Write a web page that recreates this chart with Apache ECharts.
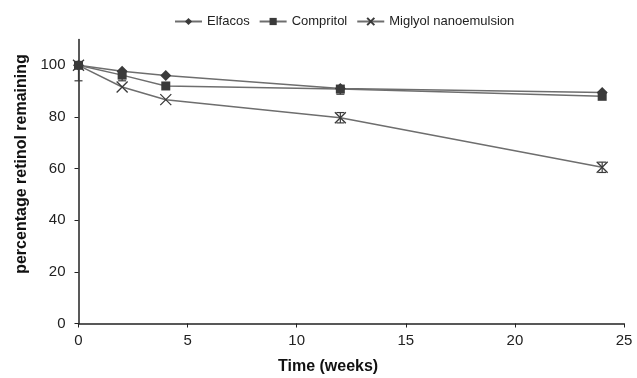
<!DOCTYPE html>
<html><head><meta charset="utf-8">
<script src="https://cdn.jsdelivr.net/npm/echarts@6/dist/echarts.min.js"></script>
<style>html,body{margin:0;padding:0;background:#fff}#c{width:637px;height:378px}</style>
</head><body><div id="c"></div>
<script>
const weeks = [0, 2, 4, 12, 24];
const elfacos = [100, 97.7, 96.1, 91, 89.5];
const compritol = [100, 96.2, 92, 90.8, 88];
const miglyol = [100, 91.6, 86.7, 79.7, 60.5];
// error bar extents below / above each point
const elfacosLo = [0, 0, 0, 0, 0];
const elfacosHi = [0, 0, 0, 0, 0];
const compritolLo = [0, 2.2, 0, 2, 0];
const compritolHi = [0, 0, 0, 0, 0];
const miglyolLo = [6, 0, 0, 2, 2];
const miglyolHi = [0, 0, 0, 2, 2];
const xTicks = [0, 5, 10, 15, 20, 25];
const yTicks = [0, 20, 40, 60, 80, 100];

const lineColor = '#6e6e6e';
const markColor = '#3a3a3a';
const font = 'Liberation Sans, Arial, sans-serif';

function pts(vals){ return weeks.map((w,i)=>[w, vals[i]]); }
function errData(vals, lo, hi){
  return weeks.map((w,i)=>[w, vals[i]-lo[i], vals[i]+hi[i], lo[i], hi[i]]).filter(d=>d[3]>0||d[4]>0);
}

function errSeries(vals, lo, hi){
  return {
    type: 'custom', silent: true, z: 5,
    data: errData(vals, lo, hi),
    renderItem: function(params, api){
      const x = api.value(0);
      const p1 = api.coord([x, api.value(1)]);
      const p2 = api.coord([x, api.value(2)]);
      const w = 4;
      const st = {stroke: markColor, lineWidth: 1.2};
      const ch = [{type:'line', shape:{x1:p1[0], y1:p1[1], x2:p2[0], y2:p2[1]}, style: st}];
      if (api.value(3) > 0) ch.push({type:'line', shape:{x1:p1[0]-w, y1:p1[1], x2:p1[0]+w, y2:p1[1]}, style: st});
      if (api.value(4) > 0) ch.push({type:'line', shape:{x1:p2[0]-w, y1:p2[1], x2:p2[0]+w, y2:p2[1]}, style: st});
      return {type:'group', children: ch};
    }
  };
}

const chart = echarts.init(document.getElementById('c'));
chart.setOption({
  animation: false,
  textStyle: {fontFamily: font},
  legend: {
    top: 10, left: 169, itemWidth: 27, itemHeight: 9, itemGap: 9,
    textStyle: {fontSize: 13, color: '#222', fontFamily: font},
    data: ['Elfacos', 'Compritol', 'Miglyol nanoemulsion']
  },
  grid: {left: 78.5, right: 13, top: 39.5, bottom: 54.5, containLabel: false},
  graphic: [
    {type: 'text', left: 278, top: 359,
     style: {text: 'Time (weeks)', font: 'bold 16px ' + font, fill: '#111'}},
    {type: 'text', x: 21.5, y: 164, rotation: Math.PI / 2,
     style: {text: 'percentage retinol remaining', font: 'bold 16px ' + font, fill: '#111',
             align: 'center', verticalAlign: 'middle'}}
  ],
  xAxis: {
    type: 'value', min: 0, max: 25, interval: 5,
    axisLine: {lineStyle: {color: '#222', width: 1.5}},
    axisTick: {show: true, length: 4, inside: false, lineStyle: {color: '#222'}},
    axisLabel: {fontSize: 15, color: '#222', margin: 10, fontFamily: font},
    splitLine: {show: false}
  },
  yAxis: {
    type: 'value', min: 0, max: 110, interval: 20,
    axisLine: {show: true, lineStyle: {color: '#222', width: 1.5}},
    axisTick: {show: true, length: 4, customValues: yTicks, lineStyle: {color: '#222'}},
    axisLabel: {fontSize: 15, color: '#222', margin: 13, customValues: yTicks, fontFamily: font},
    splitLine: {show: false}
  },
  series: [
    {name: 'Elfacos', type: 'line', data: pts(elfacos), symbol: 'diamond', symbolSize: 11,
     lineStyle: {color: lineColor, width: 1.5}, itemStyle: {color: markColor}, z: 3},
    {name: 'Compritol', type: 'line', data: pts(compritol), symbol: 'rect', symbolSize: 9,
     lineStyle: {color: lineColor, width: 1.5}, itemStyle: {color: markColor}, z: 3},
    {name: 'Miglyol nanoemulsion', type: 'line', data: pts(miglyol),
     symbol: 'path://M0,0L10,10M10,0L0,10', symbolSize: 11,
     lineStyle: {color: lineColor, width: 1.5},
     itemStyle: {color: 'none', borderColor: markColor, borderWidth: 1.3}, z: 3},
    errSeries(elfacos, elfacosLo, elfacosHi),
    errSeries(compritol, compritolLo, compritolHi),
    errSeries(miglyol, miglyolLo, miglyolHi)
  ]
});
</script></body></html>
